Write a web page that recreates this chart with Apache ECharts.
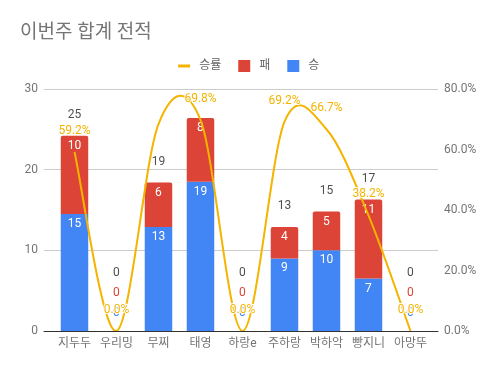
<!DOCTYPE html>
<html><head><meta charset="utf-8">
<script src="https://cdn.jsdelivr.net/npm/echarts@6/dist/echarts.min.js"></script>
<style>html,body{margin:0;padding:0;background:#fff}#c{width:496px;height:371px}</style>
</head><body><div id="c"></div>
<script>
// ---- data ----
const chartTitle = '이번주 합계 전적';
const categories = ['지두두','우리밍','무찌','태영','하랑e','주하랑','박하악','빵지니','아망뚜'];
const winBar  = [14.5, 0, 12.9, 18.5, 0, 9.0, 10.0, 6.5, 0];   // 승 (bar heights as drawn)
const lossBar = [9.7, 0, 5.5, 7.9, 0, 3.9, 4.8, 9.8, 0];       // 패 (bar heights as drawn)
const winLabels   = ['15','0','13','19','0','9','10','7','0'];
const lossLabels  = ['10','0','6','8','0','4','5','11','0'];
const totalLabels = ['25','0','19','','0','13','15','17','0'];
const winRate = [59.2, 0, 68.4, 69.8, 0, 69.2, 66.7, 38.2, 0];  // 승률 (%)
const winRateLabels = ['59.2%','0.0%','','69.8%','0.0%','69.2%','66.7%','38.2%','0.0%'];
const leftAxis = {min: 0, max: 30, step: 10};
const rightAxis = {min: 0, max: 80, step: 20};

// ---- style ----
const BLUE = '#4285F4', RED = '#DB4437', YELLOW = '#F4B400';
const FONT = 'Roboto, "Noto Sans CJK KR", sans-serif';
const GRAY = '#757575';

const idx = categories.map((_, i) => i);
const chart = echarts.init(document.getElementById('c'));

function catmullPath(pts) {
  let d = 'M' + pts[0][0] + ' ' + pts[0][1];
  for (let i = 0; i < pts.length - 1; i++) {
    const p0 = pts[i - 1] || pts[i], p1 = pts[i], p2 = pts[i + 1], p3 = pts[i + 2] || pts[i + 1];
    const c1x = p1[0] + (p2[0] - p0[0]) / 6, c1y = p1[1] + (p2[1] - p0[1]) / 6;
    const c2x = p2[0] - (p3[0] - p1[0]) / 6, c2y = p2[1] - (p3[1] - p1[1]) / 6;
    d += ' C' + c1x + ' ' + c1y + ' ' + c2x + ' ' + c2y + ' ' + p2[0] + ' ' + p2[1];
  }
  return d;
}

// bar data: [value, index] with encode y:0, x:1 so that stacking happens on the value
chart.setOption({
  animation: false,
  textStyle: {fontFamily: FONT},
  title: {text: chartTitle, left: 15, top: 19,
    textStyle: {fontSize: 19, fontWeight: 'normal', color: GRAY, fontFamily: FONT}},
  legend: {
    data: [{name: '승률', lineStyle: {color: YELLOW, width: 3, opacity: 1}},
           {name: '패', icon: 'rect'}, {name: '승', icon: 'rect'}],
    top: 55, left: 'center', itemWidth: 12, itemHeight: 12, itemGap: 17,
    textStyle: {color: '#616161', fontSize: 12, fontFamily: FONT, padding: [0, 0, 0, 4]}
  },
  grid: {left: 44, right: 58, top: 89, bottom: 40, outerBoundsMode: 'none'},
  xAxis: {
    type: 'value', min: -0.726, max: 8.655,
    axisLine: {show: true, onZero: false, lineStyle: {color: '#333', width: 1}},
    axisTick: {show: false}, splitLine: {show: false},
    axisLabel: {customValues: idx, formatter: v => categories[Math.round(v)] || '',
      color: GRAY, fontSize: 12, margin: 7, fontFamily: FONT}
  },
  yAxis: [
    {type: 'value', min: leftAxis.min, max: leftAxis.max, interval: leftAxis.step,
     axisLine: {show: false}, axisTick: {show: false},
     splitLine: {lineStyle: {color: '#cccccc'}},
     axisLabel: {color: GRAY, fontSize: 12, margin: 6, fontFamily: FONT}},
    {type: 'value', position: 'right', min: rightAxis.min, max: rightAxis.max, interval: rightAxis.step,
     axisLine: {show: false}, axisTick: {show: false}, splitLine: {show: false},
     axisLabel: {color: GRAY, fontSize: 12, margin: 6, fontFamily: FONT,
       formatter: v => v.toFixed(1) + '%'}}
  ],
  series: [
    {name: '승', type: 'bar', stack: 'a', barWidth: 27.5, encode: {x: 1, y: 0},
     itemStyle: {color: BLUE},
     label: {show: true, position: 'insideTop', distance: 4, color: '#fff', fontSize: 12,
       fontFamily: FONT, formatter: p => winLabels[p.dataIndex]},
     data: winBar.map((v, i) => v === 0
       ? {value: [v, i], label: {position: 'top', distance: 12, color: BLUE}}
       : [v, i])},
    {name: '패', type: 'bar', stack: 'a', barWidth: 27.5, encode: {x: 1, y: 0},
     itemStyle: {color: RED, borderRadius: [2, 2, 0, 0]},
     label: {show: true, position: 'insideTop', distance: 4, color: '#fff', fontSize: 12,
       fontFamily: FONT, formatter: p => lossLabels[p.dataIndex]},
     data: lossBar.map((v, i) => v === 0
       ? {value: [v, i], label: {position: 'top', distance: 32, color: RED}}
       : [v, i])},
    {name: '승률곡선', type: 'custom', yAxisIndex: 1, clip: true, silent: true, z: 3,
     data: winRate.map((v, i) => [i, v]),
     renderItem: (params, api) => {
       if (params.dataIndex !== 0) return;
       const pts = winRate.map((v, i) => api.coord([i, v]));
       return {type: 'path', shape: {pathData: catmullPath(pts)},
         style: {fill: 'none', stroke: YELLOW, lineWidth: 2}};
     }},
    {name: '승률', type: 'line', yAxisIndex: 1, symbol: 'circle', symbolSize: 2, clip: false,
     itemStyle: {color: 'rgba(0,0,0,0)'}, lineStyle: {width: 0, color: 'rgba(0,0,0,0)'},
     z: 6, silent: true,
     label: {show: true, position: 'top', distance: 14, color: YELLOW, fontSize: 12,
       fontFamily: FONT, textBorderColor: '#fff', textBorderWidth: 2,
       formatter: p => winRateLabels[p.dataIndex]},
     data: winRate.map((v, i) => [i, v])},
    {name: '합계', type: 'scatter', yAxisIndex: 0, symbolSize: 1, silent: true, z: 5,
     itemStyle: {color: 'rgba(0,0,0,0)'},
     label: {show: true, position: 'top', color: '#222', fontSize: 12, fontFamily: FONT,
       formatter: p => totalLabels[p.dataIndex]},
     data: winBar.map((v, i) => {
       const t = v + lossBar[i];
       return {value: [i, t], label: {distance: t === 0 ? 51 : 14}};
     })}
  ]
});
</script></body></html>
